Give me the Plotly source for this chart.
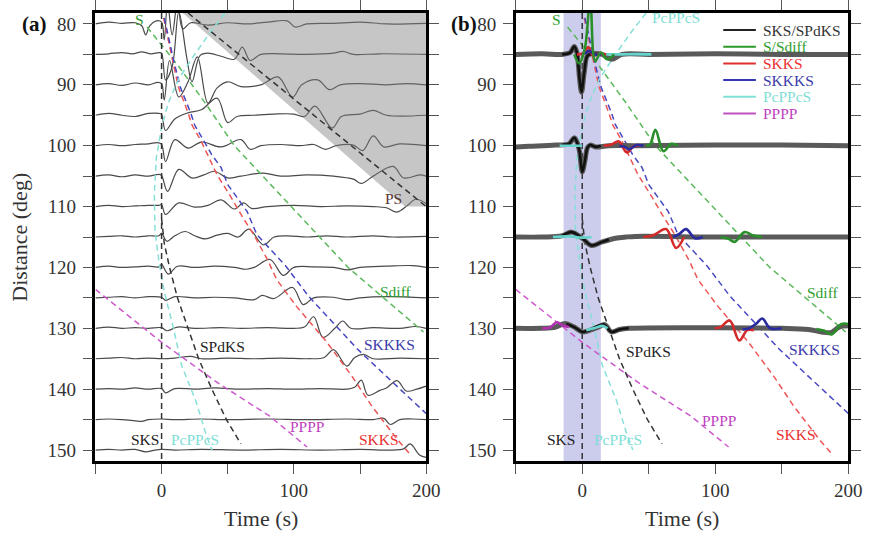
import plotly.graph_objects as go

# ---------------- data ----------------
DIST_A = [80, 85, 90, 95, 100, 105, 110, 115, 120, 125, 130, 135, 140, 145, 150]

# (time s, amplitude in deg; positive = upward) key points
A80 = [(-50,0),(-40,0.3),(-30,0.1),(-20,0.2),(-15,-0.3),(-12,-1.8),(-9,-0.3),(-4,0.5),(0,0.3),(2,-2.6),(4.5,3.5),(8,-1.8),(12,3.5),(16,-0.8),(22,0.2),(35,-0.2),(50,0.2),(65,0),(80,0.3),(95,0.5),(101,-0.5),(110,0),(130,0.1),(150,0.3),(170,0),(200,0.1)]
A85 = [(-50,0),(-40,0.1),(-30,0.3),(-22,0.1),(-15,0.4),(-8,0.1),(-2,0.3),(0,0.2),(3,-4.2),(8,-2),(13,7),(19,-0.5),(23,-4.5),(29,-0.2),(35,0.2),(45,-0.3),(55,-0.8),(61,1.2),(67,-1.0),(75,0),(90,0.1),(110,0),(130,0.2),(137,0.5),(145,0),(165,0.1),(200,0)]
A90 = [(-50,0),(-40,0.2),(-30,-0.1),(-20,0.3),(-10,0),(-3,0.4),(0,0.2),(2,-2.5),(6,4),(13,-2),(20,0.5),(27,4.6),(35,-3),(42,-0.5),(50,0.5),(60,-0.3),(75,0),(88,1.3),(99,-2),(106,0),(118,0.8),(127,-0.8),(135,0),(150,0.2),(170,0),(185,0.2),(200,0)]
A95 = [(-50,0),(-40,0.3),(-30,0),(-20,-0.2),(-10,0.3),(-2,0.3),(0,0.1),(3,-2.5),(10,-0.6),(20,0.4),(30,0.9),(42,2.8),(50,-1.2),(57,-0.2),(70,0),(85,0.2),(100,0.2),(108,-0.2),(116,1.5),(129,-2.1),(136,-0.2),(150,0.2),(160,0.8),(170,0),(200,0)]
A100 = [(-50,0),(-40,0.2),(-30,0),(-20,0.2),(-10,0.3),(-3,0.5),(0,0.2),(3,-2.6),(10,1.0),(20,-0.4),(30,0.6),(45,-0.2),(60,1.0),(67,-0.6),(75,0),(90,0.2),(105,0),(115,0.2),(124,-0.6),(132,0),(145,0.1),(152,-0.8),(160,1.6),(168,-0.2),(180,0.3),(200,0)]
A105 = [(-50,0),(-40,0.2),(-30,-0.1),(-20,0.2),(-10,0),(-2,0.3),(0,0.1),(4.5,-2.5),(13,1.1),(23,-0.3),(32,0.2),(40,0.8),(50,-0.3),(60,0),(77,0.5),(90,0),(110,0.2),(130,0),(145,-0.5),(151,-1.2),(160,0),(175,1.6),(183,-0.3),(195,0.2),(200,0)]
A110 = [(-50,0),(-40,0.2),(-30,0),(-20,0.1),(-10,0.2),(-2,0.2),(0,0.3),(3,-1.3),(13,0.6),(25,-0.1),(35,0.2),(45,1.1),(55,-0.4),(62,0.6),(68,-0.3),(80,0),(100,0.2),(120,0),(140,0.1),(160,0),(170,-0.2),(178,-0.9),(186,0.2),(192,1.2),(200,0.5)]
A115 = [(-50,0),(-40,0.1),(-30,0.2),(-20,0),(-10,0.2),(-2,0.2),(0,0.6),(4,-0.7),(10,0.2),(18,0.9),(25,0.2),(33,-0.3),(42,0.3),(50,0.6),(58,0),(66,1.3),(77,-1.3),(85,0),(95,0.2),(110,0),(125,0.2),(140,0),(160,0.2),(175,0),(200,0.1)]
A120 = [(-50,0),(-40,0.2),(-30,0),(-20,0.1),(-10,0.2),(-2,0.1),(0,0.5),(5,-1.1),(12,0.2),(25,0),(40,0.2),(55,0),(64,-0.3),(70,0),(82,1.3),(92,-1.3),(100,0),(115,0.1),(130,0),(141,-0.4),(150,0),(170,0.2),(190,0.3),(200,0)]
A125 = [(-50,0),(-40,0.1),(-30,0.2),(-20,0),(-10,0.2),(0,0.1),(3,-0.4),(10,0.2),(25,0),(40,0.1),(55,0),(70,-0.3),(76,0.4),(85,-0.1),(99,1.7),(107,-1.1),(115,0),(130,0.1),(140,-0.3),(150,0),(170,0.2),(200,0)]
A130 = [(-50,0),(-40,0.2),(-30,0),(-20,0.1),(-10,0),(0,0.1),(4,-0.4),(12,0.2),(25,0),(45,0.1),(60,0),(80,0.1),(100,0),(108,0.2),(115,1.9),(122,-1.5),(131,0),(137,1.2),(143,0),(160,0.1),(180,0),(192,0.3),(200,0)]
A135 = [(-50,0),(-40,0.1),(-30,0.2),(-20,0),(-10,0.1),(0,0),(10,0.1),(22,0.4),(30,0),(50,0.1),(70,0),(90,0.1),(110,0),(123,0.2),(130,1.5),(140,-1.2),(146,0.2),(153,0.7),(160,0),(180,0.1),(200,0)]
A140 = [(-50,0),(-40,0.1),(-30,0),(-20,0.2),(-10,0),(0,0.1),(3,-0.6),(10,0.1),(25,0),(40,0.2),(60,0),(80,0.1),(100,0),(120,0.1),(140,0),(146,0.3),(151,1.5),(156,-1.0),(165,-0.2),(170,0.2),(178,1.4),(185,-0.3),(193,0),(200,0.5)]
A145 = [(-50,0),(-40,0.1),(-30,0),(-20,-0.2),(-15,-0.3),(-10,0),(0,0.1),(10,0),(30,0.1),(50,0),(80,0.1),(110,0),(140,0.1),(160,0),(168,0.2),(173,-0.8),(180,0),(190,0.1),(200,0)]
A150 = [(-50,0),(-40,0.1),(-30,0),(-20,0.1),(-12,-0.3),(-5,0),(0,0.1),(10,0),(30,0.1),(60,0),(90,0.1),(120,0),(150,0.1),(175,0),(183,0.2),(188,1.0),(195,-0.8),(200,-1.2)]
WAVES_A = [A80, A85, A90, A95, A100, A105, A110, A115, A120, A125, A130, A135, A140, A145, A150]

# panel (b): recorded traces (gray) and phase predictions (colored)
DIST_B = [85, 100, 115, 130]
B85 = [(-50,0),(-30,0.1),(-15,0),(-9,0.3),(-6,1.3),(-4,0.3),(-2,-4),(-0.5,-6.2),(1.5,-3),(4,-0.2),(8,0.1),(15,0),(22,-0.8),(30,0),(50,0),(100,0.1),(150,0),(200,0)]
B100 = [(-50,-0.2),(-40,-0.1),(-20,0.1),(-10,0.3),(-6,1.3),(-4,0.6),(-2,-1),(0,-4.3),(2,-2.5),(4,-0.3),(6,0.1),(10,-0.2),(20,0),(40,0),(100,0.1),(150,0.1),(200,0)]
B115 = [(-50,0),(-30,0),(-15,0.2),(-8,0.8),(0,-0.2),(7,-1.4),(15,-0.8),(25,-0.2),(33,0),(40,0.1),(100,0),(150,0),(200,0)]
B130 = [(-50,0),(-30,0),(-20,0.2),(-13,0.8),(-6,0.2),(0,-0.6),(6,-0.3),(12,0.2),(17,0.6),(22,-0.6),(28,-0.2),(35,0),(100,0.1),(150,0),(170,-0.2),(180,-0.6),(187,-0.7),(193,0.2),(200,0.4)]
WAVES_B = [B85, B100, B115, B130]

SKS_85 = [(-15,0),(-9,0.3),(-6,1.3),(-4,0.3),(-2,-4),(-0.5,-6.2),(1.5,-3),(4,-0.2),(8,0.1),(12,0)]
SKS_100 = [(-15,0.2),(-10,0.3),(-6,1.3),(-4,0.6),(-2,-1),(0,-4.3),(2,-2.5),(4,-0.3),(6,0.1),(10,-0.2),(14,0)]
SKS_115 = [(-15,0.2),(-8,0.8),(0,-0.2),(7,-1.4),(15,-0.8),(20,-0.4)]
SKS_130 = [(-12,0.7),(-6,0.2),(0,-0.6),(4,-0.4),(16,0.6),(22,-0.6),(28,-0.2),(35,0)]
S_85 = [(-6,0),(-2.2,-1.5),(2,1),(6,9),(9.7,-1.1),(14,0.3),(18.6,-0.8),(24,0)]
S_100 = [(48,0),(51,0.2),(55,2.6),(61,-0.9),(67,0.3),(72,0)]
S_115 = [(104,0),(110,-0.3),(114.5,-0.8),(122,0.8),(128,0.3),(135,0)]
S_130 = [(176,-0.1),(182,-0.4),(187.4,-1.0),(194.8,0.7),(200,0.7)]
SKKS_85 = [(-4,0),(1,0.2),(4.5,1.2),(8,-0.2),(13,0.1),(18,0)]
SKKS_100 = [(16,0),(22,0.2),(27.5,0.7),(33.5,-1.1),(38.7,-0.1),(43,0)]
SKKS_115 = [(46,0),(53.5,0.3),(63,1.3),(70.6,-1.8),(76.6,0)]
SKKS_130 = [(99.6,0),(104,0.2),(110.8,1.3),(118,-2.0),(124,-0.3),(129,-0.3)]
SKKKS_85 = [(0,0),(3,0.3),(5,0.6),(9,0),(14,0)]
SKKKS_100 = [(28,0),(32,-0.2),(35,-0.6),(41,0.1),(46,0)]
SKKKS_115 = [(68.4,0),(73,0.5),(78,1.3),(84.8,-0.2),(90.7,0)]
SKKKS_130 = [(120.4,-0.2),(125.7,0),(131,0.8),(135.3,1.6),(141.3,0),(150,0)]
PCP_85 = [(18,0),(30,0),(40,0.05),(52,0)]
PCP_100 = [(-17,0),(-8,0),(0,0)]
PCP_115 = [(-22,0),(-10,0.1),(0,-0.1),(7,0)]
PCP_130 = [(3,-0.3),(10,0.1),(15,0.4),(19,0)]
PPPP_130 = [(-30,0),(-24.5,0.1),(-19,1),(-15,0.5),(-10,0.2)]

# travel-time curves (time s, distance deg)
SKS_T = [0, 0]; SKS_D = [78.2, 151.8]
SPDKS_T = [0, 2, 6, 12, 20, 28, 38, 49, 60]
SPDKS_D = [112, 116, 120, 125, 130, 135, 140, 145, 149]
S_T = [-11, 13, 33, 55, 98, 141, 198]
S_D = [80.5, 87, 93, 100, 110, 120, 130.6]
SKKS_T = [1.5, 3, 8, 12.6, 20, 23, 30, 42, 52.6, 60, 69.6, 80, 87, 102, 125, 144, 159, 178, 187]
SKKS_D = [79, 80.5, 85.9, 90.3, 94.6, 96.6, 99.3, 104.8, 108.5, 111.3, 114.6, 118.7, 122, 126.4, 132.3, 137.9, 142.8, 148.2, 150.5]
SKKKS_T = [2, 3.5, 9, 14, 22, 25, 38, 45, 50, 57, 64.6, 72, 94, 111, 132, 148, 170, 194, 200]
SKKKS_D = [79, 80.5, 85.9, 90.3, 94.6, 96.6, 101.5, 103.6, 106.4, 108.5, 110.8, 114.6, 119.8, 124.7, 129.7, 133.4, 137.9, 142.8, 144]
PCP_T = [48, 38, 25, 13, 5, 0, -4, -5.5, -5, -2, 2, 9, 15, 26, 33, 38]
PCP_D = [78.2, 81, 85, 89, 93, 97, 102, 108, 114, 119, 124, 130, 136, 142, 147, 150]
PPPP_T = [-50, 0, 42, 81.5, 110]
PPPP_D = [123.6, 132.3, 138.9, 144.4, 149.5]
PS_T = [20, 200]; PS_D = [78.2, 110]
GRAY_T = [16, 184, 200, 200]
GRAY_D = [78.2, 110, 110, 78.2]
WINDOW_T = [-14, 14]

LEGEND_NAMES = ["SKS/SPdKS", "S/Sdiff", "SKKS", "SKKKS", "PcPPcS", "PPPP"]

# ---------------- style ----------------
FONT = "Liberation Serif"
C_DASH = {"k": "#333333", "g": "#5cb85c", "r": "#ee5555", "b": "#4848c0", "c": "#86e0d8", "m": "#cc5acc"}
C_WAVE = {"k": "#111111", "g": "#2a8f2a", "r": "#d42a2a", "b": "#2a2aa0", "c": "#66d4cc", "m": "#b030b0"}
C_TEXT = {"k": "#222222", "g": "#2e9e2e", "r": "#e83030", "b": "#3a3aa8", "c": "#7fded6", "m": "#c040c0", "ps": "#553333"}

fig = go.Figure()

def wave(pts, d, xa, ya, color, width):
    fig.add_trace(go.Scatter(x=[p[0] for p in pts], y=[d - p[1] for p in pts], mode="lines",
                             line=dict(color=color, width=width, shape="spline", smoothing=1.0),
                             xaxis=xa, yaxis=ya, showlegend=False, hoverinfo="skip"))

def dashed(t, d, xa, ya, color):
    fig.add_trace(go.Scatter(x=t, y=d, mode="lines", line=dict(color=color, width=1.5, dash="6px,4px"),
                             xaxis=xa, yaxis=ya, showlegend=False, hoverinfo="skip"))

# panel (a) waveforms
for d, pts in zip(DIST_A, WAVES_A):
    wave(pts, d, "x", "y", "#4a4a4a", 1.2)

# gray shaded region
fig.add_trace(go.Scatter(x=GRAY_T, y=GRAY_D, fill="toself", fillcolor="rgba(128,128,128,0.45)",
                         mode="lines", line=dict(width=0), xaxis="x", yaxis="y",
                         showlegend=False, hoverinfo="skip"))

# dashed travel-time curves
for xa, ya in (("x", "y"), ("x2", "y2")):
    dashed(S_T, S_D, xa, ya, C_DASH["g"])
    dashed(SKKS_T, SKKS_D, xa, ya, C_DASH["r"])
    dashed(SKKKS_T, SKKKS_D, xa, ya, C_DASH["b"])
    dashed(PCP_T, PCP_D, xa, ya, C_DASH["c"])
    dashed(PPPP_T, PPPP_D, xa, ya, C_DASH["m"])
    dashed(SPDKS_T, SPDKS_D, xa, ya, C_DASH["k"])
    dashed(SKS_T, SKS_D, xa, ya, C_DASH["k"])
dashed(PS_T, PS_D, "x", "y", C_DASH["k"])

# panel (b) waveforms
for d, pts in zip(DIST_B, WAVES_B):
    wave(pts, d, "x2", "y2", "#5a5a5a", 5)
overlays = [
    (SKS_85, 85, "k"), (SKS_100, 100, "k"), (SKS_115, 115, "k"), (SKS_130, 130, "k"),
    (PCP_85, 85, "c"), (PCP_100, 100, "c"), (PCP_115, 115, "c"), (PCP_130, 130, "c"),
    (PPPP_130, 130, "m"),
    (SKKS_85, 85, "r"), (SKKS_100, 100, "r"), (SKKS_115, 115, "r"), (SKKS_130, 130, "r"),
    (SKKKS_85, 85, "b"), (SKKKS_100, 100, "b"), (SKKKS_115, 115, "b"), (SKKKS_130, 130, "b"),
    (S_85, 85, "g"), (S_100, 100, "g"), (S_115, 115, "g"), (S_130, 130, "g"),
]
for pts, d, c in overlays:
    wave(pts, d, "x2", "y2", C_WAVE[c], 2.6)

# shaded SKS window in panel (b)
fig.add_shape(type="rect", xref="x2", yref="y2 domain", x0=WINDOW_T[0], x1=WINDOW_T[1], y0=0, y1=1,
              fillcolor="rgba(170,170,225,0.6)", line_width=0, layer="below")

# phase labels
labels_a = [("S", -17, 79.3, "g"), ("PS", 175.5, 108.7, "ps"), ("Sdiff", 177, 123.9, "g"),
            ("SPdKS", 46, 133, "k"), ("SKKKS", 172, 132.6, "b"), ("PPPP", 110, 146.2, "m"),
            ("SKKS", 164, 148.2, "r"), ("SKS", -12.6, 148.2, "k"), ("PcPPcS", 25, 148.2, "c")]
labels_b = [("S", -19, 79.3, "g"), ("PcPPcS", 70.6, 79, "c"), ("Sdiff", 180.7, 124.1, "g"),
            ("SPdKS", 49.8, 133.8, "k"), ("SKKKS", 174.7, 133.4, "b"), ("PPPP", 102.6, 145.2, "m"),
            ("SKKS", 160.6, 147.5, "r"), ("SKS", -15.6, 148.2, "k"), ("PcPPcS", 26.8, 148.2, "c")]
for labs, xr, yr in ((labels_a, "x", "y"), (labels_b, "x2", "y2")):
    for txt, t, d, c in labs:
        fig.add_annotation(x=t, y=d, xref=xr, yref=yr, text=txt, showarrow=False,
                           xanchor="center", yanchor="middle",
                           font=dict(family=FONT, size=15.5, color=C_TEXT[c]))

# manual legend for panel (b)
leg_keys = ["k", "g", "r", "b", "c", "m"]
leg_colors = ["#222222", "#2a9a2a", "#e03030", "#3535b0", "#80e0d8", "#c050c0"]
for i, (name, k, lc) in enumerate(zip(LEGEND_NAMES, leg_keys, leg_colors)):
    ypix = 30 + i * 16.7
    yf = (461 - ypix) / 448
    fig.add_shape(type="line", xref="x2 domain", yref="y2 domain", x0=0.624, x1=0.722, y0=yf, y1=yf,
                  line=dict(color=lc, width=2))
    fig.add_annotation(xref="x2 domain", yref="y2 domain", x=0.737, y=yf, text=name, showarrow=False,
                       xanchor="left", yanchor="middle",
                       font=dict(family=FONT, size=15.5, color=C_TEXT[k] if k != "k" else "#333333"))

# panel tags and axis titles
fig.add_annotation(xref="paper", yref="paper", x=35/883, y=1-24/537, text="<b>(a)</b>", showarrow=False,
                   xanchor="center", yanchor="middle", font=dict(family=FONT, size=21, color="#111"))
fig.add_annotation(xref="paper", yref="paper", x=471/883, y=1-24/537, text="<b>(b)</b>", showarrow=False,
                   xanchor="center", yanchor="middle", font=dict(family=FONT, size=21, color="#111"))
fig.add_annotation(xref="paper", yref="paper", x=20/883, y=1-237/537, text="Distance (deg)", textangle=-90,
                   xanchor="center", yanchor="middle",
                   showarrow=False, font=dict(family=FONT, size=22, color="#333"))
for xc in (265, 693):
    fig.add_annotation(xref="paper", yref="paper", x=xc/883, y=1-518/537, text="Time (s)", showarrow=False,
                       xanchor="center", yanchor="middle",
                       font=dict(family=FONT, size=22, color="#333"))

xt_vals = [-50, 0, 50, 100, 150, 200]
xt_text = ["", "0", "", "100", "", "200"]
yt_vals = list(range(80, 151, 5))
yt_text = [str(v) if v % 10 == 0 else "" for v in yt_vals]

axis_common = dict(showline=True, linewidth=2.5, linecolor="black", mirror="allticks", ticks="outside",
                   ticklen=10, tickwidth=1.2, tickcolor="#555", showgrid=False, zeroline=False,
                   tickfont=dict(family=FONT, size=19, color="#333"))

fig.update_layout(
    width=883, height=537, margin=dict(l=0, r=0, t=0, b=0),
    paper_bgcolor="white", plot_bgcolor="white", showlegend=False,
    xaxis=dict(domain=[97/883, 433/883], range=[-50, 200], tickvals=xt_vals, ticktext=xt_text,
               anchor="y", **axis_common),
    yaxis=dict(domain=[76/537, 524/537], range=[151.8, 78.2], tickvals=yt_vals, ticktext=yt_text,
               anchor="x", ticklabelstandoff=3, **axis_common),
    xaxis2=dict(domain=[524/883, 862/883], range=[-50, 200], tickvals=xt_vals, ticktext=xt_text,
                anchor="y2", **axis_common),
    yaxis2=dict(domain=[76/537, 524/537], range=[151.8, 78.2], tickvals=yt_vals, ticktext=yt_text,
                anchor="x2", ticklabelstandoff=3, **axis_common),
)

fig.write_html("out.html")
